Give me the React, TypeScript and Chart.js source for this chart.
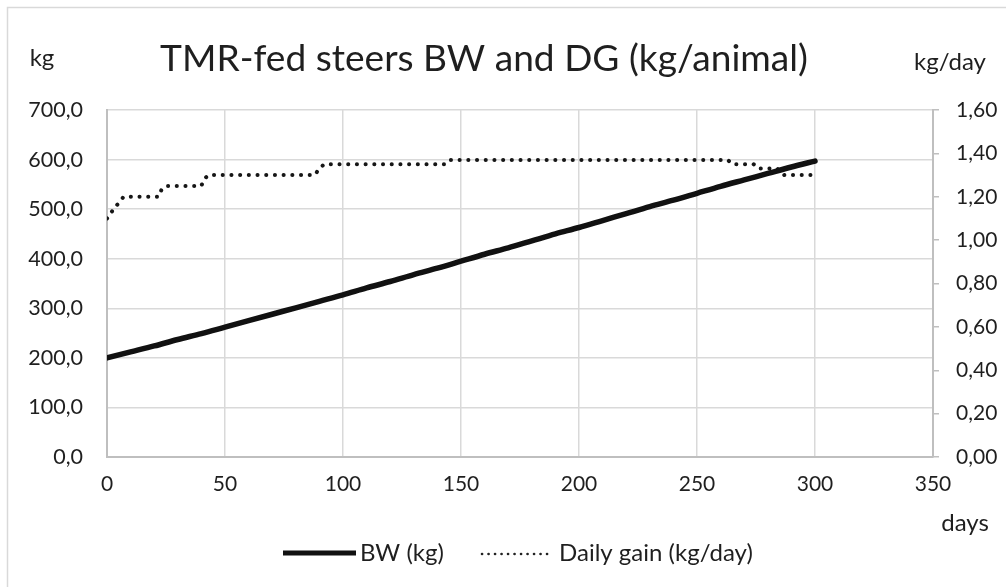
import React, { useEffect, useRef } from "react";
import { Chart, registerables } from "chart.js";
Chart.register(...registerables);

const chartTitle = "TMR-fed steers BW and DG (kg/animal)";
const bwLabel = "BW (kg)";
const dgLabel = "Daily gain (kg/day)";

// Body weight (kg), read every 10 days
const bwDays = [0, 10, 20, 30, 40, 50, 60, 70, 80, 90, 100, 110, 120, 130, 140, 150, 160, 170, 180, 190, 200, 210, 220, 230, 240, 250, 260, 270, 280, 290, 300];
const bwValues = [200, 212, 224, 237, 249, 262, 275, 288, 301, 314, 327, 341, 354, 368, 381, 395, 409, 422, 436, 450, 463, 477, 491, 505, 518, 532, 546, 559, 572, 585, 597];

// Daily gain (kg/day), step changes
const dgDays = [0, 1, 3, 5, 7, 22, 23, 25, 40, 41, 43, 88, 90, 92, 143, 145, 263, 265, 274, 276, 284, 287, 300];
const dgValues = [1.10, 1.11, 1.15, 1.17, 1.20, 1.20, 1.23, 1.25, 1.25, 1.28, 1.30, 1.30, 1.33, 1.35, 1.35, 1.37, 1.37, 1.35, 1.35, 1.33, 1.33, 1.30, 1.30];

const xMin = 0, xMax = 350, xStep = 50;
const yMin = 0, yMax = 700, yStep = 100;
const y1Min = 0, y1Max = 1.6, y1Step = 0.2;

const FONT = "Lato, 'Open Sans', sans-serif";
const TEXT = "#1f1f1f";
const GRID = "#d9d9d9";
const AXIS = "#bfbfbf";

function fitSize(ctx: CanvasRenderingContext2D, text: string, target: number) {
  ctx.font = `100px ${FONT}`;
  const w = ctx.measureText(text).width;
  return (100 * target) / w;
}

const decorPlugin = {
  id: "decor",
  beforeDraw(chart: any) {
    const ctx = chart.ctx as CanvasRenderingContext2D;
    ctx.save();
    ctx.fillStyle = "#fff";
    ctx.fillRect(0, 0, chart.width, chart.height);
    ctx.strokeStyle = GRID;
    ctx.lineWidth = 1.5;
    ctx.strokeRect(7.5, 7.5, 1200, 1000);
    ctx.restore();
  },
  afterDraw(chart: any) {
    const ctx = chart.ctx as CanvasRenderingContext2D;
    ctx.save();
    ctx.fillStyle = TEXT;
    ctx.textBaseline = "middle";
    // title
    const ts = fitSize(ctx, chartTitle, 648);
    ctx.font = `${ts}px ${FONT}`;
    ctx.textAlign = "center";
    ctx.fillText(chartTitle, 484, 59);
    // axis unit labels
    ctx.font = `24px ${FONT}`;
    ctx.textAlign = "center";
    ctx.fillText("kg", 42, 58);
    ctx.fillText("kg/day", 950, 62);
    ctx.fillText("days", 965, 523);
    // legend
    const ls = fitSize(ctx, dgLabel, 194);
    ctx.font = `${ls}px ${FONT}`;
    ctx.textAlign = "left";
    const ly = 553;
    ctx.strokeStyle = "#111";
    ctx.lineWidth = 5;
    ctx.lineCap = "butt";
    ctx.beginPath();
    ctx.moveTo(283, ly);
    ctx.lineTo(356, ly);
    ctx.stroke();
    ctx.fillText(bwLabel, 360, ly);
    ctx.strokeStyle = "#222";
    ctx.lineWidth = 2.6;
    ctx.lineCap = "round";
    ctx.setLineDash([0.1, 6.4]);
    ctx.beginPath();
    ctx.moveTo(482, ly + 1);
    ctx.lineTo(550, ly + 1);
    ctx.stroke();
    ctx.setLineDash([]);
    ctx.fillText(dgLabel, 559, ly);
    ctx.restore();
  },
};

export default function App() {
  const ref = useRef<HTMLCanvasElement | null>(null);
  useEffect(() => {
    if (!ref.current) return;
    const chart = new Chart(ref.current, {
      type: "line",
      data: {
        datasets: [
          {
            label: bwLabel,
            data: bwDays.map((d, i) => ({ x: d, y: bwValues[i] })),
            yAxisID: "y",
            borderColor: "#111",
            borderWidth: 5.5,
            pointRadius: 0,
            cubicInterpolationMode: "monotone",
            borderCapStyle: "round",
            order: 0,
          },
          {
            label: dgLabel,
            data: dgDays.map((d, i) => ({ x: d, y: dgValues[i] })),
            yAxisID: "y1",
            borderColor: "#161616",
            borderWidth: 4,
            borderDash: [0.1, 8.6],
            borderCapStyle: "round",
            borderJoinStyle: "round",
            pointRadius: 0,
            tension: 0,
            order: 1,
          },
        ],
      },
      options: {
        animation: false,
        responsive: false,
        devicePixelRatio: 1,
        layout: { padding: { top: 110, left: 0, right: 0, bottom: 0 } },
        plugins: { legend: { display: false }, title: { display: false }, tooltip: { enabled: false } },
        scales: {
          x: {
            type: "linear",
            min: xMin,
            max: xMax,
            afterFit: (s: any) => { s.height = 130; },
            ticks: { stepSize: xStep, color: TEXT, font: { family: FONT, size: 21 }, padding: 15, maxRotation: 0 },
            grid: { color: GRID, lineWidth: 1.5, drawTicks: false },
            border: { color: AXIS, width: 2 },
          },
          y: {
            type: "linear",
            position: "left",
            min: yMin,
            max: yMax,
            afterFit: (s: any) => { s.width = 107; },
            ticks: {
              stepSize: yStep,
              color: TEXT,
              font: { family: FONT, size: 21.5 },
              padding: 24,
              callback: (v: any) => Number(v).toFixed(1).replace(".", ","),
            },
            grid: { color: GRID, lineWidth: 1.5, drawTicks: false },
            border: { color: AXIS, width: 2 },
          },
          y1: {
            type: "linear",
            position: "right",
            min: y1Min,
            max: y1Max,
            afterFit: (s: any) => { s.width = 73; },
            ticks: {
              stepSize: y1Step,
              color: TEXT,
              font: { family: FONT, size: 21 },
              padding: 17,
              callback: (v: any) => Number(v).toFixed(2).replace(".", ","),
            },
            grid: { drawOnChartArea: false, drawTicks: true, tickLength: 6, color: AXIS, lineWidth: 1.5 },
            border: { color: AXIS, width: 2 },
          },
        },
      },
      plugins: [decorPlugin],
    });
    return () => chart.destroy();
  }, []);
  return (
    <div style={{ position: "fixed", left: 0, top: 0, width: 1006, height: 587, overflow: "hidden", background: "#fff" }}>
      <canvas ref={ref} width={1006} height={587} style={{ display: "block", width: 1006, height: 587 }} />
    </div>
  );
}
